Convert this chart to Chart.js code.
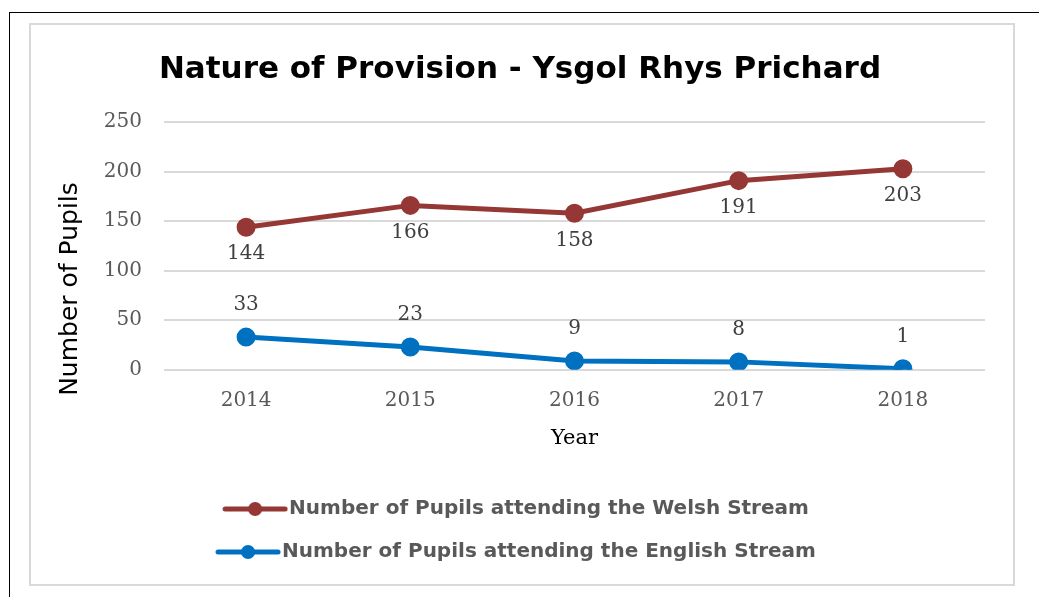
<!DOCTYPE html>
<html>
<head>
<meta charset="utf-8">
<script src="https://cdn.jsdelivr.net/npm/chart.js@4.4.0/dist/chart.umd.min.js"></script>
<style>
    body { margin: 0; background: #fff; }
    #marco { position: absolute; left: 9px; top: 12px; width: 1040px; height: 600px; border-top: 1px solid #000; border-left: 1px solid #000; }
    #caja { position: absolute; left: 29px; top: 23px; width: 982px; height: 559px; border: 2px solid #d9d9d9; }
    #grafico { display: block; }
</style>
</head>
<body>
<div id="marco"></div>
<div id="caja"><canvas id="grafico" width="982" height="559"></canvas></div>
<script>
const years = ["2014", "2015", "2016", "2017", "2018"];
const welsh = [144, 166, 158, 191, 203];
const english = [33, 23, 9, 8, 1];
const yTicks = [0, 50, 100, 150, 200, 250];

const serif = "'DejaVu Serif', serif";
const sans = "'DejaVu Sans', sans-serif";

// muestra de leyenda: linea con circulo
function muestra(color) {
    const c = document.createElement('canvas');
    c.width = 66; c.height = 16;
    const g = c.getContext('2d');
    g.strokeStyle = color;
    g.lineWidth = 5;
    g.lineCap = 'round';
    g.beginPath();
    g.moveTo(3, 8); g.lineTo(63, 8);
    g.stroke();
    g.fillStyle = color;
    g.beginPath();
    g.arc(33, 8, 7, 0, Math.PI * 2);
    g.fill();
    return c;
}

// etiquetas de valores
const etiquetas = {
    id: 'etiquetas',
    afterDatasetsDraw(chart) {
        const ctx = chart.ctx;
        ctx.save();
        ctx.font = "20px " + serif;
        ctx.fillStyle = '#404040';
        ctx.textAlign = 'center';
        ctx.textBaseline = 'middle';
        chart.data.datasets.forEach((ds, i) => {
            const meta = chart.getDatasetMeta(i);
            meta.data.forEach((pt, j) => {
                const dy = ds.labelPos === 'below' ? 27 : -32;
                ctx.fillText(ds.data[j], pt.x, pt.y + dy);
            });
        });
        ctx.restore();
    }
};

// titulo del eje Y (algo mas abajo que el centro, como en el original)
const tituloY = {
    id: 'tituloY',
    afterDraw(chart) {
        const ctx = chart.ctx;
        const y = chart.scales.y;
        ctx.save();
        ctx.translate(y.left + 15, (chart.chartArea.top + chart.chartArea.bottom) / 2 + 43);
        ctx.rotate(-Math.PI / 2);
        ctx.font = "25px " + sans;
        ctx.fillStyle = '#000';
        ctx.textAlign = 'center';
        ctx.textBaseline = 'middle';
        ctx.fillText('Number of Pupils', 0, 0);
        ctx.restore();
    }
};

new Chart(document.getElementById('grafico'), {
    type: 'line',
    data: {
        labels: years,
        datasets: [{
            label: 'Number of Pupils attending the Welsh Stream',
            data: welsh,
            borderColor: '#953735',
            backgroundColor: '#953735',
            borderWidth: 5,
            pointRadius: 7,
            pointHoverRadius: 7,
            pointStyle: 'circle',
            labelPos: 'below'
        }, {
            label: 'Number of Pupils attending the English Stream',
            data: english,
            borderColor: '#0070C0',
            backgroundColor: '#0070C0',
            borderWidth: 5,
            pointRadius: 7,
            pointHoverRadius: 7,
            pointStyle: 'circle',
            labelPos: 'above'
        }]
    },
    options: {
        responsive: false,
        animation: false,
        layout: { padding: { left: 24, right: 28, top: 0, bottom: 12 } },
        scales: {
            x: {
                offset: true,
                grid: { display: false },
                border: { display: false },
                ticks: { color: '#595959', font: { family: serif, size: 20 }, padding: 11 },
                title: { display: true, text: 'Year', color: '#000', font: { family: serif, size: 21 }, padding: { top: 2, bottom: 25 } }
            },
            y: {
                min: 0,
                max: 250,
                afterBuildTicks(axis) { axis.ticks = yTicks.map(v => ({ value: v })); },
                afterFit(axis) { axis.width = 109; },
                grid: { color: '#d9d9d9', lineWidth: 2, drawTicks: false },
                border: { display: false },
                ticks: { color: '#595959', font: { family: serif, size: 20 }, padding: 22 }
            }
        },
        plugins: {
            title: {
                display: true,
                text: 'Nature of Provision - Ysgol Rhys Prichard',
                color: '#000',
                font: { family: sans, size: 31, weight: 'bold' },
                padding: { top: 26, bottom: 34 }
            },
            legend: {
                position: 'bottom',
                labels: {
                    usePointStyle: true,
                    pointStyleWidth: 48,
                    color: '#595959',
                    font: { family: sans, size: 20, weight: 'bold' },
                    padding: 23,
                    generateLabels(chart) {
                        return chart.data.datasets.map((ds, i) => ({
                            text: ds.label,
                            pointStyle: muestra(ds.borderColor),
                            fillStyle: ds.borderColor,
                            strokeStyle: ds.borderColor,
                            lineWidth: 0,
                            fontColor: '#595959',
                            datasetIndex: i
                        }));
                    }
                }
            },
            tooltip: { enabled: false }
        }
    },
    plugins: [etiquetas, tituloY]
});
</script>
</body>
</html>
